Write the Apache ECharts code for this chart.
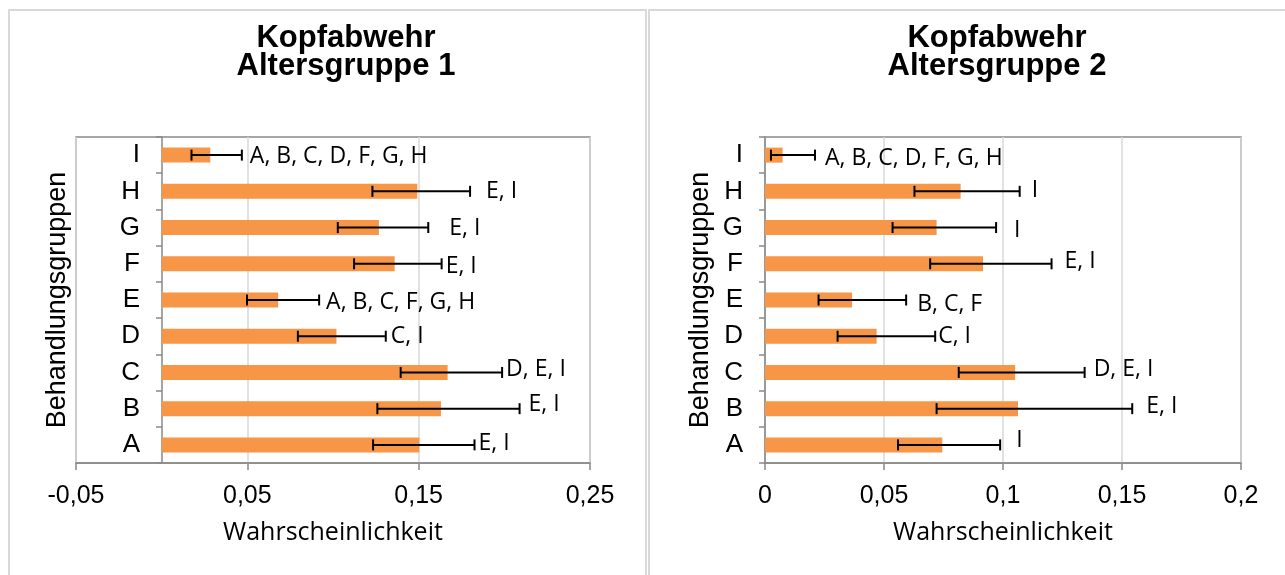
<!DOCTYPE html>
<html><head><meta charset="utf-8">
<script src="https://cdn.jsdelivr.net/npm/echarts@6/dist/echarts.min.js"></script>
<style>html,body{margin:0;padding:0;background:#fff}#c{width:1285px;height:575px}</style>
</head><body><div id="c"></div>
<script>
// ---- data ----
const categories = ['A','B','C','D','E','F','G','H','I'];
const g1Values = [0.1504,0.1630,0.1669,0.1020,0.0680,0.1360,0.1268,0.1492,0.0284];
const g1Low    = [0.1234,0.1259,0.1395,0.0795,0.0498,0.1123,0.1028,0.1230,0.0174];
const g1High   = [0.1826,0.2089,0.1987,0.1308,0.0919,0.1634,0.1556,0.1800,0.0468];
const g1Letters = ['E, I','E, I','D, E, I','C, I','A, B, C, F, G, H','E, I','E, I','E, I','A, B, C, D, F, G, H'];
const g2Values = [0.0745,0.1063,0.1051,0.0469,0.0366,0.0916,0.0721,0.0822,0.0074];
const g2Low    = [0.0559,0.0721,0.0814,0.0305,0.0225,0.0694,0.0536,0.0628,0.0025];
const g2High   = [0.0988,0.1543,0.1343,0.0715,0.0593,0.1204,0.0971,0.1070,0.0210];
const g2Letters = ['I','E, I','D, E, I','C, I','B, C, F','E, I','I','I','A, B, C, D, F, G, H'];
const g1Ticks = ['-0,05','0,05','0,15','0,25'];
const g2Ticks = ['0','0,05','0,1','0,15','0,2'];
const titles = ['Kopfabwehr\nAltersgruppe 1','Kopfabwehr\nAltersgruppe 2'];
const xName = 'Wahrscheinlichkeit';
const yName = 'Behandlungsgruppen';

// ---- layout (pixel nudges of the data labels, relative to error-bar end) ----
const g1Nudge = [[4,-1],[9,-4],[4,-3],[5,0],[7,2],[4,3],[21,1],[16,0],[8,1]];
const g2Nudge = [[16,-4],[14,-2],[9,-3],[3,0],[11,4],[13,-2],[18,3],[12,-1],[10,3]];

const ORANGE = '#F79646';
const AXIS = '#898989';
const GRIDC = '#d9d9d9';
const ARIAL = "'Liberation Sans', Arial, sans-serif";
const LABF = "'Open Sans', sans-serif";

function errRender(letters, nudges){
  return function(params, api){
    const lo = api.value(0), hi = api.value(1), ci = api.value(2);
    const p0 = api.coord([lo, ci]);
    const p1 = api.coord([hi, ci]);
    const y = p0[1], h = 5.5;
    const nd = nudges[params.dataIndex];
    const st = {stroke:'#000', lineWidth:2};
    return {type:'group', children:[
      {type:'line', shape:{x1:p0[0], y1:y, x2:p1[0], y2:y}, style:st},
      {type:'line', shape:{x1:p0[0], y1:y-h, x2:p0[0], y2:y+h}, style:st},
      {type:'line', shape:{x1:p1[0], y1:y-h, x2:p1[0], y2:y+h}, style:st},
      {type:'text', x:p1[0]+nd[0], y:y+nd[1], style:{text:letters[params.dataIndex], fontFamily:LABF, fontSize:23, fill:'#000', align:'left', verticalAlign:'middle'}}
    ]};
  };
}

function xAxisCfg(gi, min, max, interval, ticks){
  return {
    type:'value', gridIndex:gi, min:min, max:max, interval:interval,
    name:xName, nameLocation:'middle', nameGap:57,
    nameTextStyle:{fontFamily:LABF, fontSize:25, color:'#000'},
    axisLine:{show:true, lineStyle:{color:AXIS, width:1.5}},
    axisTick:{show:true, length:7, lineStyle:{color:AXIS, width:1.5}},
    axisLabel:{margin:21, fontFamily:ARIAL, fontSize:25, color:'#000',
      formatter:function(v, i){ return ticks[i]; }},
    splitLine:{show:true, lineStyle:{color:GRIDC, width:1.5}}
  };
}
function yAxisCfg(gi, nameGap, offset){
  return {
    type:'category', gridIndex:gi, data:categories, offset:offset,
    name:yName, nameLocation:'middle', nameRotate:90, nameGap:nameGap,
    nameTextStyle:{fontFamily:ARIAL, fontSize:27, color:'#000'},
    axisLine:{show:true, onZero:false, lineStyle:{color:AXIS, width:1.5}},
    axisTick:{show:true, length:6, lineStyle:{color:AXIS, width:1.5}},
    axisLabel:{margin:22, fontFamily:ARIAL, fontSize:26, color:'#000'},
    splitLine:{show:false}
  };
}

const chart = echarts.init(document.getElementById('c'), null, {renderer:'canvas'});
chart.setOption({
  animation:false,
  backgroundColor:'#fff',
  graphic:[
    {type:'rect', shape:{x:9, y:10, width:637, height:620}, style:{fill:'none', stroke:'#d9d9d9', lineWidth:2}, z:-10},
    {type:'rect', shape:{x:649, y:10, width:700, height:620}, style:{fill:'none', stroke:'#d9d9d9', lineWidth:2}, z:-10}
  ],
  title:[
    {text:titles[0], left:341, top:19, textAlign:'center',
     textStyle:{fontFamily:ARIAL, fontWeight:'bold', fontSize:31, lineHeight:28, color:'#000'}},
    {text:titles[1], left:992, top:19, textAlign:'center',
     textStyle:{fontFamily:ARIAL, fontWeight:'bold', fontSize:31, lineHeight:28, color:'#000'}}
  ],
  grid:[
    {left:76, top:137, width:514, height:326, show:true, borderColor:AXIS, borderWidth:1.5, containLabel:false, outerBoundsMode:'none'},
    {left:765, top:137, width:476, height:326, show:true, borderColor:AXIS, borderWidth:1.5, containLabel:false, outerBoundsMode:'none'}
  ],
  xAxis:[
    xAxisCfg(0, -0.05, 0.25, 0.1, g1Ticks),
    xAxisCfg(1, 0, 0.2, 0.05, g2Ticks)
  ],
  yAxis:[
    yAxisCfg(0, 91, -86),
    yAxisCfg(1, 51, 0)
  ],
  series:[
    {type:'bar', xAxisIndex:0, yAxisIndex:0, data:g1Values, barWidth:15, itemStyle:{color:ORANGE}, z:2},
    {type:'bar', xAxisIndex:1, yAxisIndex:1, data:g2Values, barWidth:15, itemStyle:{color:ORANGE}, z:2},
    {type:'custom', xAxisIndex:0, yAxisIndex:0, z:5,
     encode:{x:[0,1], y:2},
     data:categories.map(function(c,i){ return [g1Low[i], g1High[i], i]; }),
     renderItem:errRender(g1Letters, g1Nudge)},
    {type:'custom', xAxisIndex:1, yAxisIndex:1, z:5,
     encode:{x:[0,1], y:2},
     data:categories.map(function(c,i){ return [g2Low[i], g2High[i], i]; }),
     renderItem:errRender(g2Letters, g2Nudge)}
  ]
});
</script>
</body></html>
